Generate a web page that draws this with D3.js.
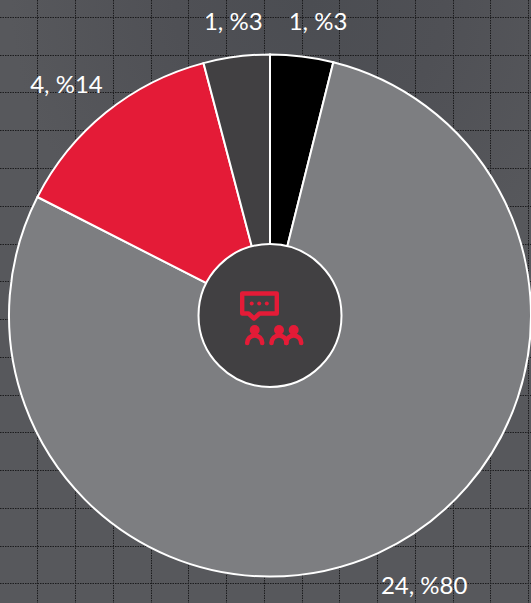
<!DOCTYPE html>
<html><head><meta charset="utf-8">
<script src="https://cdn.jsdelivr.net/npm/d3@7"></script>
<style>html,body{margin:0;padding:0;background:#55565a;overflow:hidden}svg{display:block}</style>
</head><body><svg id="c" width="531" height="603"></svg>
<script>
const categories = ["A","B","C","D"];
const counts = [1,24,4,1];
const percents = [3,80,14,3];
const sliceShares = [3.9,78.6,13.4,4.1];
const sliceColors = ["#000000","#7d7e81","#e41b37","#414042"];
const labelPositions = [[318,29.5],[424.2,593.7],[66.5,92.7],[233.3,29.5]];

const W=531,H=603,cx=270,cy=315.5,R=261,r0=71.5;
const svg=d3.select("#c");
const defs=svg.append("defs");
const g=defs.append("radialGradient").attr("id","bg").attr("gradientUnits","userSpaceOnUse")
 .attr("cx",310).attr("cy",0).attr("r",300);
[[0,"#4b4d52"],[.45,"#4f5055"],[1,"#57585c"]].forEach(s=>g.append("stop").attr("offset",s[0]).attr("stop-color",s[1]));
svg.append("rect").attr("width",W).attr("height",H).attr("fill","url(#bg)");
const xs=d3.range(0,14).map(i=>Math.floor(37.7+i*37.77)+.5), ys=d3.range(0,16).map(i=>Math.floor(17.4+i*37.77)+.5);
svg.selectAll(".vg").data(xs).join("line").attr("x1",d=>d).attr("x2",d=>d).attr("y1",0).attr("y2",H)
 .attr("stroke","#1c1c1e").attr("stroke-width",1).attr("stroke-dasharray","1.5 1");
svg.selectAll(".hg").data(ys).join("line").attr("y1",d=>d).attr("y2",d=>d).attr("x1",0).attr("x2",W)
 .attr("stroke","#1c1c1e").attr("stroke-width",1).attr("stroke-dasharray","1.5 1");

const pie=d3.pie().sort(null).startAngle(0).endAngle(2*Math.PI);
const arc=d3.arc().innerRadius(0).outerRadius(R);
const root=svg.append("g").attr("transform",`translate(${cx},${cy})`);
root.selectAll("path").data(pie(sliceShares)).join("path").attr("d",arc)
 .attr("fill",(d,i)=>sliceColors[i]).attr("stroke","#fff").attr("stroke-width",2);
root.append("circle").attr("r",r0).attr("fill","#414042").attr("stroke","#fff").attr("stroke-width",2);

const red="#e41b37";
const icon=svg.append("g");
icon.append("path").attr("d","M242.2 293.5H276.8V313.5H259.5L254 318.5L248.5 313.5H242.2Z").attr("fill","none").attr("stroke",red).attr("stroke-width",4.4).attr("stroke-linejoin","round");
[251.7,259.2,266.8].forEach(x=>icon.append("circle").attr("cx",x).attr("cy",303.5).attr("r",2).attr("fill",red));
[254.7,279,293.7].forEach(x=>{
 icon.append("circle").attr("cx",x).attr("cy",330).attr("r",5).attr("fill",red);
 icon.append("path").attr("d",`M${x-7.5} 343A7.5 7.5 0 0 1 ${x+7.5} 343`).attr("fill","none").attr("stroke",red).attr("stroke-width",4.6).attr("stroke-linecap","round");
});

svg.selectAll(".lab").data(counts).join("text").attr("class","lab")
 .attr("x",(d,i)=>labelPositions[i][0]).attr("y",(d,i)=>labelPositions[i][1])
 .attr("text-anchor","middle").attr("font-family","Lato").attr("font-size",24).attr("fill","#fff")
 .text((d,i)=>`${d}, %${percents[i]}`);
</script></body></html>
